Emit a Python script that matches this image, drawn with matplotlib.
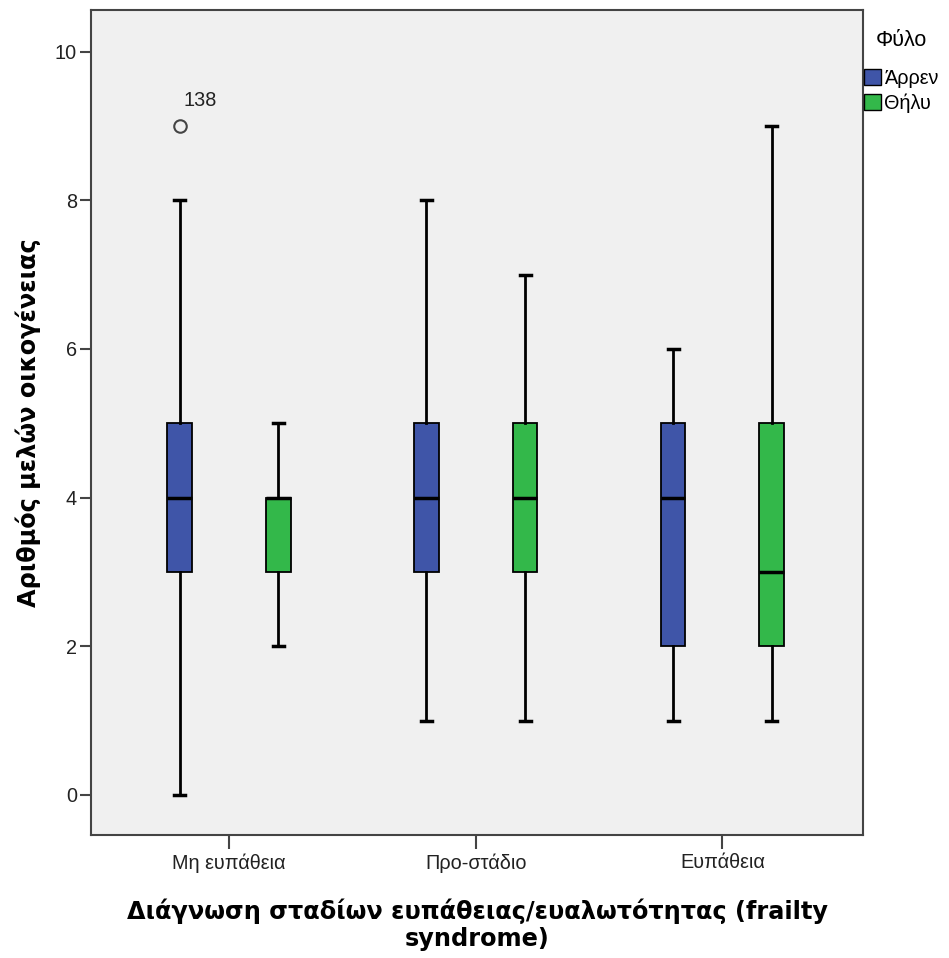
import matplotlib.pyplot as plt
from matplotlib.patches import Patch

# stages of frailty (x categories) and sex groups
categories = ["Μη ευπάθεια", "Προ-στάδιο", "Ευπάθεια"]
groups = ["Άρρεν", "Θήλυ"]
colors = ["#3F55A8", "#33B84A"]

# box stats: [whislo, q1, med, q3, whishi]
male_stats = [[0, 3, 4, 5, 8], [1, 3, 4, 5, 8], [1, 2, 4, 5, 6]]
female_stats = [[2, 3, 4, 4, 5], [1, 3, 4, 5, 7], [1, 2, 3, 5, 9]]
male_fliers = [[9], [], []]
female_fliers = [[], [], []]
outlier_labels = [("138", 0, 9)]  # (case id, category idx, value)

plt.rcParams['font.family'] = ['Liberation Sans', 'DejaVu Sans']

fig = plt.figure(figsize=(9.49, 9.58), dpi=100)
ax = fig.add_axes([0.0959, 0.1284, 0.9094 - 0.0959, 0.9896 - 0.1284])
ax.set_facecolor("#F0F0F0")

offset = 0.2
width = 0.1


def make_stats(rows, fliers):
    out = []
    for r, f in zip(rows, fliers):
        out.append(dict(whislo=r[0], q1=r[1], med=r[2], q3=r[3], whishi=r[4], fliers=f))
    return out


for gi, (stats, fl) in enumerate([(male_stats, male_fliers), (female_stats, female_fliers)]):
    pos = [i + (-offset if gi == 0 else offset) for i in range(len(categories))]
    ax.bxp(make_stats(stats, fl), positions=pos, widths=width, patch_artist=True,
           capwidths=0.045, manage_ticks=False,
           boxprops=dict(facecolor=colors[gi], edgecolor="black", linewidth=1.3),
           medianprops=dict(color="black", linewidth=2.5),
           whiskerprops=dict(color="black", linewidth=2),
           capprops=dict(color="black", linewidth=2.5),
           flierprops=dict(marker="o", markersize=9, markerfacecolor="none",
                           markeredgecolor="#444444", markeredgewidth=1.5))

for lab, ci, val in outlier_labels:
    ax.text(ci - offset + 0.015, val + 0.22, lab, fontsize=14.3, color="#222222",
            ha="left", va="bottom")

ax.set_xlim(-0.56, 2.57)
ax.set_ylim(-0.54, 10.56)
ax.set_xticks(range(len(categories)))
ax.set_xticklabels(categories)
ax.set_yticks([0, 2, 4, 6, 8, 10])
ax.tick_params(axis="both", labelsize=14.3, colors="#222222", width=1.5, color="#444444")
ax.tick_params(axis="y", length=8, pad=2)
ax.tick_params(axis="x", length=10, pad=3)
for s in ax.spines.values():
    s.set_color("#444444")
    s.set_linewidth(1.5)

ax.set_xlabel("Διάγνωση σταδίων ευπάθειας/ευαλωτότητας (frailty\nsyndrome)",
              fontsize=17.3, fontweight="bold", family="DejaVu Sans",
              labelpad=19, linespacing=1.12)
ax.set_ylabel("Αριθμός μελών οικογένειας", fontsize=17.3, fontweight="bold",
              family="DejaVu Sans", labelpad=10)

handles = [Patch(facecolor=c, edgecolor="black", label=g) for c, g in zip(colors, groups)]
leg = fig.legend(handles=handles, title="Φύλο", loc="upper left",
                 bbox_to_anchor=(0.9104, 0.969), frameon=False, fontsize=14.3,
                 title_fontsize=15.5, handlelength=0.85, handleheight=0.85,
                 handletextpad=0.15, labelspacing=0.3, borderaxespad=0,
                 borderpad=0)
leg._legend_box.sep = 13

fig.savefig("out.png", dpi=100)
